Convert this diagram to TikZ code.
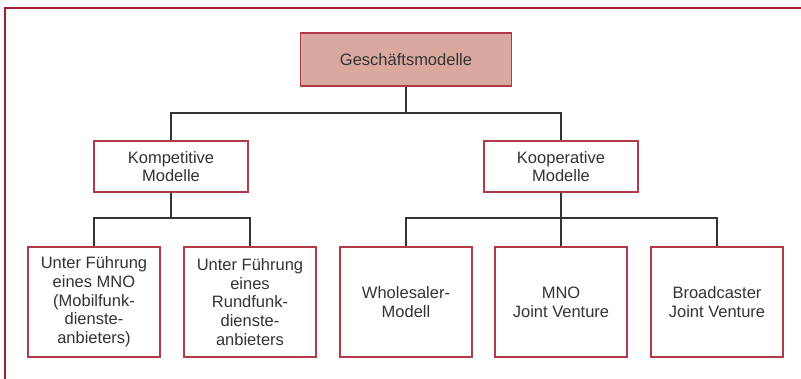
\documentclass[tikz,border=0pt]{standalone}
\usepackage{fontspec}
\setmainfont{Liberation Sans}
\definecolor{framered}{HTML}{A51D2D}
\definecolor{boxred}{HTML}{B23A48}
\definecolor{topfill}{HTML}{D9A99F}
\definecolor{txt}{HTML}{333333}
\definecolor{conn}{HTML}{333333}
\tikzset{
  box/.style={draw=boxred, line width=1.4pt, fill=white, align=center, text=txt,
    font=\fontsize{16.5}{18.7}\selectfont, inner sep=0pt},
  topbox/.style={box, fill=topfill, minimum width=211pt, minimum height=53pt},
  midbox/.style={box, minimum width=154pt, minimum height=51pt},
  leafbox/.style={box, minimum width=132pt, minimum height=110pt},
  conn/.style={draw=conn, line width=1.2pt},
}
\begin{document}
\begin{tikzpicture}[x=1pt,y=-1pt]
\useasboundingbox (0,0) rectangle (801,379);
\draw[framered, line width=2.4pt] (5,381) -- (5,8) -- (803,8);

\node[topbox] (top) at (406,59.5) {Geschäftsmodelle};
\node[midbox] (komp) at (171,166.5) {Kompetitive\\Modelle};
\node[midbox] (koop) at (561,166.5) {Kooperative\\Modelle};

\node[leafbox] (l1) at (94,302) {Unter Führung\\eines MNO\\(Mobilfunk-\\dienste-\\anbieters)};
\node[leafbox] (l2) at (250,302) {Unter Führung\\eines\\Rundfunk-\\dienste-\\anbieters};
\node[leafbox] (l3) at (406,302) {Wholesaler-\\Modell};
\node[leafbox] (l4) at (561,302) {MNO\\Joint Venture};
\node[leafbox] (l5) at (717,302) {Broadcaster\\Joint Venture};

\coordinate (h0) at (0,113);
\coordinate (h1) at (0,218);

\draw[conn] (top.south) -- (top.south |- h0);
\draw[conn] (komp.north) -- (komp.north |- h0) -- (koop.north |- h0) -- (koop.north);

\draw[conn] (komp.south) -- (komp.south |- h1);
\draw[conn] (l1.north) -- (l1.north |- h1) -- (l2.north |- h1) -- (l2.north);

\draw[conn] (koop.south) -- (koop.south |- h1);
\draw[conn] (l3.north) -- (l3.north |- h1) -- (l5.north |- h1) -- (l5.north);
\draw[conn] (l4.north) -- (l4.north |- h1);
\end{tikzpicture}
\end{document}
